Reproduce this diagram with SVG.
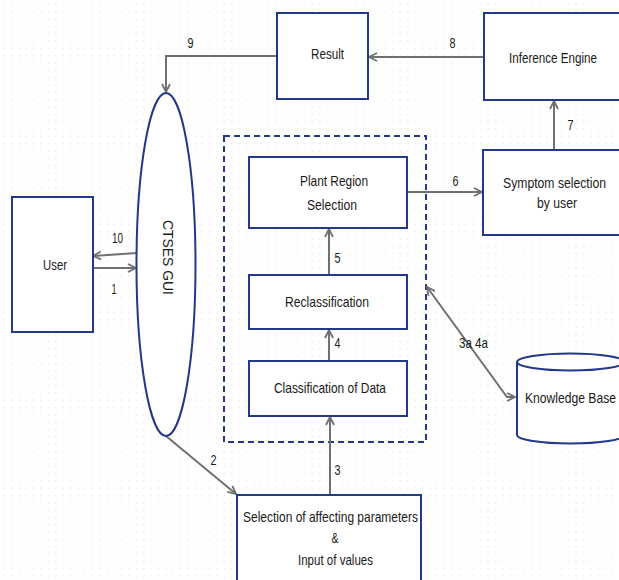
<svg xmlns="http://www.w3.org/2000/svg" width="619" height="580" viewBox="0 0 619 580">
<defs>
<pattern id="grid" x="2" y="2" width="7.33" height="7.33" patternUnits="userSpaceOnUse">
<rect x="2" y="2" width="1" height="1" fill="#d8d8d8"/>
</pattern>
<marker id="ah" viewBox="0 0 10 10" refX="9" refY="5" markerWidth="10" markerHeight="10" markerUnits="userSpaceOnUse" orient="auto-start-reverse">
<path d="M1,1 L9,5 L1,9" fill="none" stroke="#707070" stroke-width="1.8"/>
</marker>
<style>
.box{fill:#fff;stroke:#22388a;stroke-width:2}
.t{font-family:"Liberation Sans",Arial,sans-serif;font-size:15px;fill:#1a1a1a}
.c{fill:none;stroke:#707070;stroke-width:2}
</style>
</defs>
<rect width="619" height="580" fill="#fff"/>
<rect width="619" height="580" fill="url(#grid)"/>

<rect id="container" x="224" y="136" width="202" height="306" fill="none" stroke="#22388a" stroke-width="2" stroke-dasharray="6,4"/>

<g id="connectors">
<polyline class="c" points="277,56 166,56 166,92" marker-end="url(#ah)"/>
<line class="c" x1="484" y1="57" x2="369" y2="57" marker-end="url(#ah)"/>
<line class="c" x1="554" y1="150" x2="554" y2="101" marker-end="url(#ah)"/>
<line class="c" x1="407" y1="192" x2="482" y2="192" marker-end="url(#ah)"/>
<line class="c" x1="329" y1="275" x2="329" y2="229" marker-end="url(#ah)"/>
<line class="c" x1="329" y1="361" x2="329" y2="330" marker-end="url(#ah)"/>
<line class="c" x1="330" y1="495" x2="330" y2="417" marker-end="url(#ah)"/>
<line class="c" x1="137" y1="253" x2="93" y2="256" marker-end="url(#ah)"/>
<line class="c" x1="93" y1="268" x2="136" y2="268" marker-end="url(#ah)"/>
<line class="c" x1="166" y1="436" x2="236" y2="494" marker-end="url(#ah)"/>
<polyline class="c" points="427,287 507,397 515,397" marker-start="url(#ah)" marker-end="url(#ah)"/>
</g>
<g id="labels">
<text class="t" x="190.5" y="48" text-anchor="middle" textLength="6" lengthAdjust="spacingAndGlyphs">9</text>
<text class="t" x="452.5" y="48" text-anchor="middle" textLength="6" lengthAdjust="spacingAndGlyphs">8</text>
<text class="t" x="570.5" y="130" text-anchor="middle" textLength="6" lengthAdjust="spacingAndGlyphs">7</text>
<text class="t" x="455.5" y="186" text-anchor="middle" textLength="6" lengthAdjust="spacingAndGlyphs">6</text>
<text class="t" x="337.5" y="263" text-anchor="middle" textLength="6" lengthAdjust="spacingAndGlyphs">5</text>
<text class="t" x="337.5" y="348" text-anchor="middle" textLength="6" lengthAdjust="spacingAndGlyphs">4</text>
<text class="t" x="337.5" y="475" text-anchor="middle" textLength="6" lengthAdjust="spacingAndGlyphs">3</text>
<text class="t" x="213.5" y="465" text-anchor="middle" textLength="6" lengthAdjust="spacingAndGlyphs">2</text>
<text class="t" x="117.5" y="243" text-anchor="middle" textLength="11" lengthAdjust="spacingAndGlyphs">10</text>
<text class="t" x="114" y="294" text-anchor="middle" textLength="5" lengthAdjust="spacingAndGlyphs">1</text>
<text class="t" x="459" y="348" textLength="29" lengthAdjust="spacingAndGlyphs">3a 4a</text>
</g>

<g id="result">
<rect class="box" x="277" y="13" width="91" height="86"/>
<text class="t" x="311" y="59" textLength="33" lengthAdjust="spacingAndGlyphs">Result</text>
</g>
<g id="inference">
<rect class="box" x="484" y="13" width="140" height="87"/>
<text class="t" x="509" y="63" textLength="88" lengthAdjust="spacingAndGlyphs">Inference Engine</text>
</g>
<g id="symptom">
<rect class="box" x="483" y="150" width="142" height="85"/>
<text class="t" x="503" y="188" textLength="103" lengthAdjust="spacingAndGlyphs">Symptom selection</text>
<text class="t" x="537" y="208" textLength="40" lengthAdjust="spacingAndGlyphs">by user</text>
</g>
<g id="gui">
<ellipse cx="166" cy="264.5" rx="29.5" ry="171.5" fill="#fff" stroke="#22388a" stroke-width="2"/>
<text class="t" transform="translate(163,220) rotate(90)" textLength="75" lengthAdjust="spacingAndGlyphs">CTSES GUI</text>
</g>
<g id="user">
<rect class="box" x="12" y="197" width="81" height="135"/>
<text class="t" x="43" y="270" textLength="24" lengthAdjust="spacingAndGlyphs">User</text>
</g>
<g id="plant">
<rect class="box" x="249" y="157" width="158" height="71"/>
<text class="t" x="300" y="186" textLength="68" lengthAdjust="spacingAndGlyphs">Plant Region</text>
<text class="t" x="307" y="210" textLength="50" lengthAdjust="spacingAndGlyphs">Selection</text>
</g>
<g id="reclass">
<rect class="box" x="249" y="275" width="158" height="54"/>
<text class="t" x="285" y="307" textLength="84" lengthAdjust="spacingAndGlyphs">Reclassification</text>
</g>
<g id="classif">
<rect class="box" x="249" y="361" width="158" height="55"/>
<text class="t" x="274" y="393" textLength="112" lengthAdjust="spacingAndGlyphs">Classification of Data</text>
</g>
<g id="selection">
<rect class="box" x="237" y="495" width="184" height="95"/>
<text class="t" x="243" y="522" textLength="175" lengthAdjust="spacingAndGlyphs">Selection of affecting parameters</text>
<text class="t" x="335" y="543" text-anchor="middle" textLength="7" lengthAdjust="spacingAndGlyphs">&amp;</text>
<text class="t" x="298" y="565" textLength="75" lengthAdjust="spacingAndGlyphs">Input of values</text>
</g>
<g id="kb">
<path d="M517,362 L517,435 A53.5,8.5 0 0,0 624,435 L624,362" fill="#fff" stroke="#22388a" stroke-width="2"/>
<ellipse cx="570.5" cy="362" rx="53.5" ry="8.5" fill="#fff" stroke="#22388a" stroke-width="2"/>
<text class="t" x="525" y="403" textLength="91" lengthAdjust="spacingAndGlyphs">Knowledge Base</text>
</g>
</svg>
